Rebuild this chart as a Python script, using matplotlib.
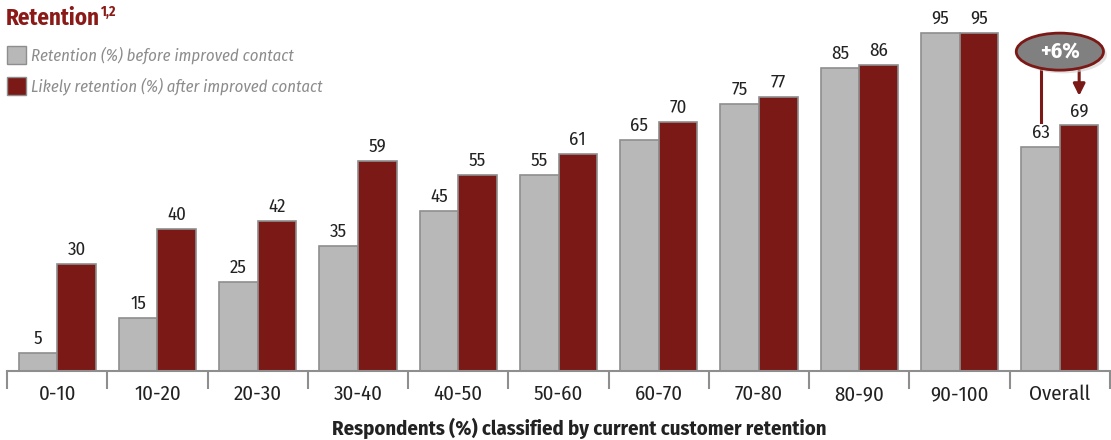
import matplotlib
matplotlib.use("Agg")
import matplotlib.pyplot as plt
from matplotlib.patches import Ellipse, Rectangle
from matplotlib import font_manager
import numpy as np

# condensed sans if present, DejaVu otherwise
names = {f.name for f in font_manager.fontManager.ttflist}
family = next((n for n in ["Fira Sans Condensed", "Barlow Semi Condensed"] if n in names),
              "DejaVu Sans")
plt.rcParams['font.family'] = [family, 'DejaVu Sans']

categories = ["0-10", "10-20", "20-30", "30-40", "40-50", "50-60",
              "60-70", "70-80", "80-90", "90-100", "Overall"]
before = [5, 15, 25, 35, 45, 55, 65, 75, 85, 95, 63]
after = [30, 40, 42, 59, 55, 61, 70, 77, 86, 95, 69]
series_labels = ["Retention (%) before improved contact",
                 "Likely retention (%) after improved contact"]
uplift = "+6%"

GRAY = "#b8b8b8"
RED = "#7b1916"
EDGE = "#8e8e8e"
TITLE_RED = "#8a1a17"
INK = "#222222"

W, H = 1111, 440
fig = plt.figure(figsize=(W / 100, H / 100), dpi=100)
ax = fig.add_axes([7 / W, 1 - 371 / H, 1103 / W, 371 / H])

x = np.arange(len(categories))
w = 0.385
ax.bar(x - w / 2, before, w, color=GRAY, edgecolor=EDGE, linewidth=1.2)
ax.bar(x + w / 2, after, w, color=RED, edgecolor=EDGE, linewidth=1.2)

for xi, b, a in zip(x, before, after):
    ax.text(xi - w / 2, b + 1.5, str(b), ha='center', va='bottom', fontsize=13.5, color=INK)
    ax.text(xi + w / 2, a + 1.5, str(a), ha='center', va='bottom', fontsize=13.5, color=INK)

ax.set_xlim(-0.5, len(categories) - 0.5)
ax.set_ylim(0, 104.2)
for s in ['top', 'right', 'left']:
    ax.spines[s].set_visible(False)
ax.spines['bottom'].set_color(EDGE)
ax.spines['bottom'].set_linewidth(1.5)
ax.set_yticks([])

# ticks at group boundaries, labels at group centres
ax.set_xticks(np.arange(-0.5, len(categories), 1.0))
ax.set_xticklabels([])
ax.tick_params(axis='x', length=13, width=1.5, color=EDGE, direction='out')
for xi, c in zip(x, categories):
    ax.text(xi, -6.6, c, ha='center', va='center', fontsize=15, color=INK, clip_on=False)
fig.text(579 / W, 1 - 428 / H,
         "Respondents (%) classified by current customer retention",
         ha='center', va='center', fontsize=14.8, fontweight='bold', color=INK)

# title with superscript placed after the measured word
title = fig.text(6 / W, 1 - 18 / H, "Retention", fontsize=16.5, fontweight='bold',
                 color=TITLE_RED, ha='left', va='center')
fig.canvas.draw()
bb = title.get_window_extent().transformed(fig.transFigure.inverted())
fig.text(bb.x1 + 1 / W, 1 - 12 / H, "1,2", fontsize=10, fontweight='bold',
         color=TITLE_RED, ha='left', va='center')

for i, (lab, col) in enumerate(zip(series_labels, [GRAY, RED])):
    yc = 1 - (55 + i * 31) / H
    fig.patches.append(Rectangle((7 / W, yc - 9 / H), 19 / W, 18 / H, transform=fig.transFigure,
                                 facecolor=col, edgecolor=EDGE, linewidth=1.0))
    fig.text(31 / W, yc, lab, fontsize=12, style='italic', color="#8c8c8c",
             ha='left', va='center')

# uplift callout on the overall pair
ox = x[-1]
ell_y, ell_h, ell_w = 89.7, 10.4, 0.87
shadow = Ellipse((ox + 0.035, ell_y - 0.9), ell_w, ell_h, facecolor="#cfcfcf",
                 edgecolor='none', alpha=0.6, zorder=4, clip_on=False)
ax.add_patch(shadow)
ell = Ellipse((ox, ell_y), ell_w, ell_h, facecolor="#808080", edgecolor=RED,
              linewidth=2.0, zorder=5, clip_on=False)
ax.add_patch(ell)
ax.text(ox, ell_y, uplift, ha='center', va='center', fontsize=16, fontweight='bold',
        color='white', zorder=6)
ax.plot([ox - w / 2, ox - w / 2], [ell_y - 4.6, before[-1] + 7], color=RED, lw=2.2,
        zorder=3, clip_on=False)
ax.annotate("", xy=(ox + w / 2, after[-1] + 7.5), xytext=(ox + w / 2, ell_y - 4.6),
            arrowprops=dict(arrowstyle='-|>,head_width=0.35,head_length=0.7',
                            color=RED, lw=2.2), zorder=3)

fig.savefig("out.png", dpi=100)
